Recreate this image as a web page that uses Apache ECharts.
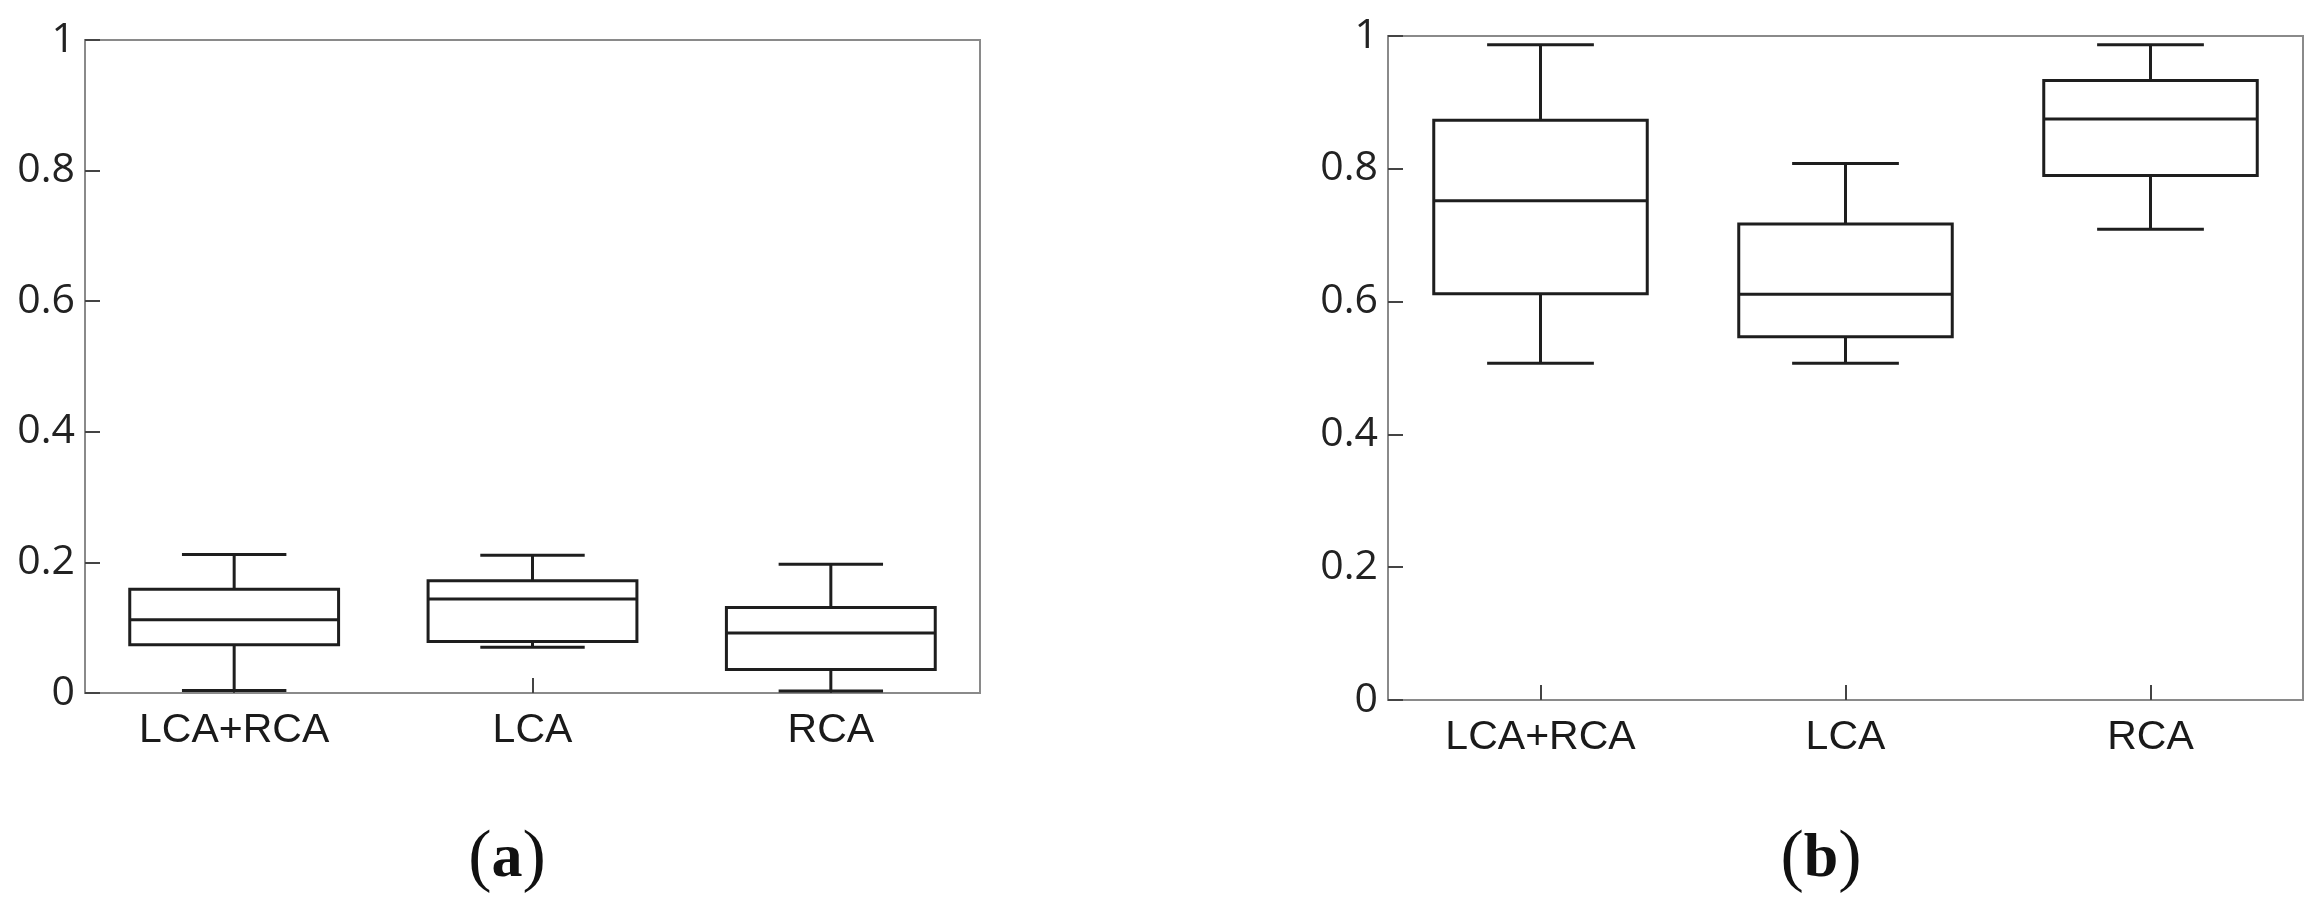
<!DOCTYPE html>
<html>
<head>
<meta charset="utf-8">
<script src="https://cdn.jsdelivr.net/npm/echarts@6/dist/echarts.min.js"></script>
<style>
  html, body { margin: 0; padding: 0; background: #fff; }
  #chart { width: 2321px; height: 900px; }
</style>
</head>
<body>
<div id="chart"></div>
<script>
// categories
const categories = ['LCA+RCA', 'LCA', 'RCA'];

// panel (a): low whisker, Q1, median, Q3, high whisker
const aLow = [0.004, 0.070, 0.003];
const aQ1 = [0.074, 0.079, 0.036];
const aMed = [0.112, 0.144, 0.092];
const aQ3 = [0.159, 0.172, 0.131];
const aHigh = [0.212, 0.211, 0.197];

// panel (b)
const bLow = [0.507, 0.507, 0.709];
const bQ1 = [0.612, 0.547, 0.790];
const bMed = [0.752, 0.611, 0.875];
const bQ3 = [0.873, 0.717, 0.933];
const bHigh = [0.987, 0.808, 0.987];

const yTicks = { min: 0, max: 1, interval: 0.2 };

function rows(low, q1, med, q3, high) {
  return categories.map((c, i) => [i, low[i], q1[i], med[i], q3[i], high[i]]);
}

const lineColor = '#1e1e1e';
const axisColor = '#8a8a8a';

// box with half-width whisker caps, like the original figure
function renderBox(params, api) {
  const i = api.value(0);
  const band = api.size([1, 0])[0];
  const boxW = band * 0.70;
  const capW = band * 0.35;
  const pLow = api.coord([i, api.value(1)]);
  const pQ1 = api.coord([i, api.value(2)]);
  const pMed = api.coord([i, api.value(3)]);
  const pQ3 = api.coord([i, api.value(4)]);
  const pHigh = api.coord([i, api.value(5)]);
  const x = pMed[0];
  const st = { stroke: lineColor, lineWidth: 3, fill: 'none' };
  const line = (x1, y1, x2, y2) => ({ type: 'line', shape: { x1, y1, x2, y2 }, style: st });
  return {
    type: 'group',
    children: [
      { type: 'rect', shape: { x: x - boxW / 2, y: pQ3[1], width: boxW, height: pQ1[1] - pQ3[1] }, style: st },
      line(x - boxW / 2, pMed[1], x + boxW / 2, pMed[1]),
      line(x, pQ3[1], x, pHigh[1]),
      line(x, pQ1[1], x, pLow[1]),
      line(x - capW / 2, pHigh[1], x + capW / 2, pHigh[1]),
      line(x - capW / 2, pLow[1], x + capW / 2, pLow[1])
    ]
  };
}

function xAxisFor(gridIndex) {
  return {
    type: 'category',
    gridIndex,
    data: categories,
    axisLine: { show: true, lineStyle: { color: axisColor, width: 2 } },
    axisTick: { show: true, inside: true, length: 15, alignWithLabel: true, lineStyle: { color: '#444', width: 2 } },
    axisLabel: { margin: 17, color: '#1a1a1a', fontFamily: 'Liberation Sans', fontSize: 41 },
    splitLine: { show: false }
  };
}

function yAxisFor(gridIndex) {
  return {
    type: 'value',
    gridIndex,
    min: yTicks.min,
    max: yTicks.max,
    interval: yTicks.interval,
    axisLine: { show: true, lineStyle: { color: axisColor, width: 2 } },
    axisTick: { show: true, inside: true, length: 15, lineStyle: { color: '#444', width: 2 } },
    axisLabel: { margin: 10, color: '#222', fontFamily: 'Open Sans', fontSize: 41 },
    splitLine: { show: false }
  };
}

const captionRich = {
  p: { fontFamily: 'Liberation Serif', fontSize: 70, fontWeight: 'normal', color: '#111' },
  b: { fontFamily: 'Liberation Serif', fontSize: 62, fontWeight: 'bold', color: '#111' }
};

const chart = echarts.init(document.getElementById('chart'));
chart.setOption({
  animation: false,
  backgroundColor: '#fff',
  title: [
    { text: '{p|(}{b|a}{p|)}', left: 502, top: 820, textAlign: 'center', textStyle: { fontWeight: 'normal', rich: captionRich } },
    { text: '{p|(}{b|b}{p|)}', left: 1816, top: 820, textAlign: 'center', textStyle: { fontWeight: 'normal', rich: captionRich } }
  ],
  grid: [
    { left: 85, top: 40, width: 895, height: 653, show: true, borderColor: axisColor, borderWidth: 2, backgroundColor: 'transparent' },
    { left: 1388, top: 36, width: 915, height: 664, show: true, borderColor: axisColor, borderWidth: 2, backgroundColor: 'transparent' }
  ],
  xAxis: [xAxisFor(0), xAxisFor(1)],
  yAxis: [yAxisFor(0), yAxisFor(1)],
  series: [
    {
      type: 'custom', xAxisIndex: 0, yAxisIndex: 0,
      renderItem: renderBox,
      encode: { x: 0, y: [1, 2, 3, 4, 5] },
      data: rows(aLow, aQ1, aMed, aQ3, aHigh)
    },
    {
      type: 'custom', xAxisIndex: 1, yAxisIndex: 1,
      renderItem: renderBox,
      encode: { x: 0, y: [1, 2, 3, 4, 5] },
      data: rows(bLow, bQ1, bMed, bQ3, bHigh)
    }
  ]
});
</script>
</body>
</html>
